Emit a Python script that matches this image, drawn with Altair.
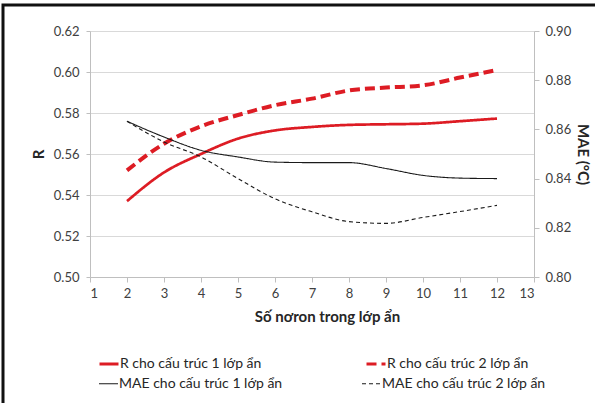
import altair as alt
import pandas as pd

# ---- data ----
neurons = list(range(2, 13))
r_1 = [0.537, 0.551, 0.560, 0.5675, 0.5715, 0.5732, 0.5742, 0.5745, 0.5748, 0.576, 0.5773]
r_2 = [0.552, 0.565, 0.5735, 0.579, 0.5838, 0.587, 0.591, 0.5924, 0.5935, 0.5973, 0.601]
mae_1 = [0.8633, 0.8569, 0.8515, 0.8488, 0.8467, 0.8465, 0.8465, 0.8441, 0.8413, 0.8402, 0.8400]
mae_2 = [0.8633, 0.8549, 0.8488, 0.8400, 0.8318, 0.8265, 0.8225, 0.8218, 0.8242, 0.8266, 0.8291]

r_names = ["R cho cấu trúc 1 lớp ẩn", "R cho cấu trúc 2 lớp ẩn"]
mae_names = ["MAE cho cấu trúc 1 lớp ẩn", "MAE cho cấu trúc 2 lớp ẩn"]
line_widths = [2.7, 4.0, 1.1, 1.1]
x_ticks = list(range(1, 14))
r_ticks = [0.50, 0.52, 0.54, 0.56, 0.58, 0.60, 0.62]
mae_ticks = [0.80, 0.82, 0.84, 0.86, 0.88, 0.90]

rows = []
for name, vals, w in zip(r_names + mae_names, [r_1, r_2, mae_1, mae_2], line_widths):
    kind = "R" if name.startswith("R") else "MAE"
    for n, v in zip(neurons, vals):
        rows.append({"n": n, "value": v, "series": name, "kind": kind, "w": w})
df = pd.DataFrame(rows)

FONT = "Lato"
RED = "#dd1c24"
BLACK = "#1a1a1a"

leg_r = alt.Legend(legendX=8, legendY=322, columnPadding=98, symbolStrokeWidth=3)
leg_m = alt.Legend(legendX=8, legendY=342, columnPadding=76, symbolStrokeWidth=1.2)

x_enc = alt.X("n:Q", scale=alt.Scale(domain=[1, 13], nice=False),
              axis=alt.Axis(values=x_ticks, title="Số nơron trong lớp ẩn", grid=False,
                            tickSize=5, labelPadding=5, titleX=237, titleY=32,
                            titleAlign="center", titleBaseline="top",
                            titleFontWeight="bold", titleFontSize=15))

r_layer = alt.Chart(df).transform_filter(alt.datum.kind == "R").mark_line(
    interpolate="monotone"
).encode(
    x=x_enc,
    y=alt.Y("value:Q", scale=alt.Scale(domain=[0.50, 0.62], nice=False, zero=False),
            axis=alt.Axis(values=r_ticks, format=".2f", title="R", orient="left",
                          grid=True, tickSize=4, labelPadding=7, titlePadding=7,
                          titleFontWeight="bold", titleFontSize=15)),
    color=alt.Color("series:N", title=None, legend=leg_r,
                    scale=alt.Scale(domain=r_names, range=[RED, RED])),
    strokeDash=alt.StrokeDash("series:N", title=None, legend=leg_r,
                              scale=alt.Scale(domain=r_names, range=[[1, 0], [10, 5]])),
    strokeWidth=alt.StrokeWidth("w:Q", scale=None),
)

mae_layer = alt.Chart(df).transform_filter(alt.datum.kind == "MAE").mark_line(
    interpolate="monotone"
).encode(
    x=x_enc,
    y=alt.Y("value:Q", scale=alt.Scale(domain=[0.80, 0.90], nice=False, zero=False),
            axis=alt.Axis(values=mae_ticks, format=".2f", title="MAE (°C)", orient="right",
                          grid=False, tickSize=5, labelPadding=6, titlePadding=4,
                          titleFontWeight="bold", titleFontSize=15)),
    color=alt.Color("series:N", title=None, legend=leg_m,
                    scale=alt.Scale(domain=mae_names, range=[BLACK, BLACK])),
    strokeDash=alt.StrokeDash("series:N", title=None, legend=leg_m,
                              scale=alt.Scale(domain=mae_names, range=[[1, 0], [4, 3]])),
    strokeWidth=alt.StrokeWidth("w:Q", scale=None),
)

frame = alt.Chart(alt.Data(values=[{}])).mark_rect(
    fill=None, stroke="#111111", strokeWidth=3
).encode(
    x=alt.value(-87), y=alt.value(-26), x2=alt.value(600), y2=alt.value(480)
)

chart = alt.layer(r_layer, mae_layer, frame).resolve_scale(
    y="independent", color="independent", strokeDash="independent"
).properties(
    width=444, height=246,
    padding={"left": 90, "top": 31, "right": 61, "bottom": 126},
    autosize=alt.AutoSizeParams(type="none"),
    background="white",
).configure_view(stroke=None).configure_axis(
    labelFont=FONT, titleFont=FONT, labelFontSize=13,
    labelColor="#404040", titleColor="#262626",
    domainColor="#bfbfbf", tickColor="#bfbfbf", gridColor="#d9d9d9",
).configure_legend(
    orient="none", columns=2, direction="horizontal",
    symbolSize=361, symbolType="stroke", labelFont=FONT,
    labelFontSize=14, labelColor="#262626", labelOffset=0, padding=0,
    labelLimit=300,
)

chart.save("out.html", embed_options={"renderer": "svg", "actions": False})
